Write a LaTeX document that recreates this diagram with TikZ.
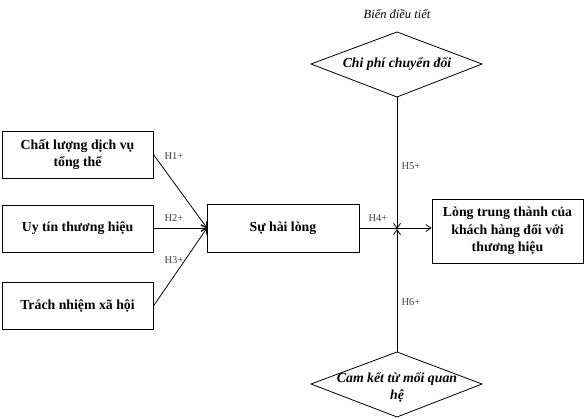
\documentclass[tikz,border=0pt]{standalone}
\usepackage{fontspec}
\setmainfont{Liberation Serif}
\usetikzlibrary{arrows.meta,shapes.geometric}
\begin{document}
\begin{tikzpicture}[x=1pt,y=-1pt,
  box/.style={draw,line width=0.9pt,font=\fontsize{13.8}{17.5}\selectfont\bfseries,align=center,inner sep=0pt},
  dia/.style={draw,line width=0.8pt},
  dtext/.style={font=\fontsize{13.8}{17}\selectfont\bfseries\itshape,align=center},
  hl/.style={font=\fontsize{10.5}{12}\selectfont,text=black!75},
  conn/.style={line width=0.8pt},
  arr/.style={conn,-{Straight Barb[length=5pt,width=7pt]}}]
\useasboundingbox (0,0) rectangle (588,418);
\node[box,minimum width=151pt,minimum height=47pt] (b1) at (77.5,154.5) {Chất lượng dịch vụ\\tổng thể};
\node[box,minimum width=151pt,minimum height=47pt] (b2) at (77.5,228.5) {Uy tín thương hiệu};
\node[box,minimum width=151pt,minimum height=47pt] (b3) at (77.5,306) {Trách nhiệm xã hội};
\node[box,minimum width=152pt,minimum height=48pt] (s) at (283,228) {Sự hài lòng};
\node[box,minimum width=151pt,minimum height=64pt] (l) at (507.5,231) {Lòng trung thành của\\khách hàng đối với\\thương hiệu};
\node[font=\fontsize{12.5}{14}\selectfont\itshape] (mod) at (397,14) {Biến điều tiết};
\draw[dia] (311,64) -- (397,32) -- (482,64) -- (397,97) -- cycle;
\node[dtext] (d1) at (397,64) {Chi phí chuyển đổi};
\draw[dia] (311,384) -- (397,352) -- (482,384) -- (397,417) -- cycle;
\node[dtext] (d2) at (397,387) {Cam kết từ mối quan\\hệ};
\coordinate (t) at (397,97);
\coordinate (bt) at (397,352);
\coordinate (j) at (397,229);
\coordinate (sin) at (207,228);
\draw[arr] (b1.east) -- (sin);
\draw[arr] (b2.east |- sin) -- (sin);
\draw[arr] (b3.east) -- (sin);
\draw[arr] (s.east) -- (l.west |- s.east);
\draw[arr] (t) -- (j);
\draw[arr] (bt) -- (j);
\node[hl] at (174,156) {H1+};
\node[hl] at (174,218) {H2+};
\node[hl] at (174,260) {H3+};
\node[hl] at (378,218) {H4+};
\node[hl] at (411,166) {H5+};
\node[hl] at (411,302) {H6+};
\end{tikzpicture}
\end{document}
